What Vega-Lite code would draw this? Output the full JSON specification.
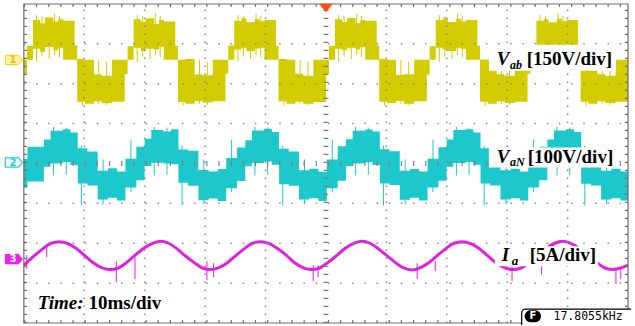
{
  "$schema": "https://vega.github.io/schema/vega-lite/v6.json",
  "width": 635,
  "height": 326,
  "autosize": {"type": "fit", "contains": "padding"},
  "padding": 0,
  "background": "white",
  "config": {"view": {"stroke": null}, "axis": {"disable": true}},
  "datasets": {
    "band": [
      {"ch": "A", "t": 0, "hi": 2.6, "lo": 2.22},
      {"ch": "A", "t": 0.5, "hi": 2.95, "lo": 2.6},
      {"ch": "A", "t": 1.5, "hi": 3.6, "lo": 2.88},
      {"ch": "A", "t": 2.7, "hi": 3.52, "lo": 2.8},
      {"ch": "A", "t": 3.5, "hi": 3.66, "lo": 2.92},
      {"ch": "A", "t": 4.9, "hi": 3.56, "lo": 2.84},
      {"ch": "A", "t": 5.7, "hi": 3.62, "lo": 2.9},
      {"ch": "A", "t": 6.5, "hi": 3.58, "lo": 2.6},
      {"ch": "A", "t": 8.4, "hi": 2.96, "lo": 2.6},
      {"ch": "A", "t": 8.83, "hi": 2.62, "lo": 1.55},
      {"ch": "A", "t": 10.1, "hi": 2.6, "lo": 1.5},
      {"ch": "A", "t": 11.6, "hi": 2.24, "lo": 1.56},
      {"ch": "A", "t": 12.9, "hi": 2.2, "lo": 1.52},
      {"ch": "A", "t": 14.6, "hi": 2.6, "lo": 1.55},
      {"ch": "A", "t": 16.7, "hi": 2.6, "lo": 2.24},
      {"ch": "A", "t": 17.17, "hi": 2.94, "lo": 2.6},
      {"ch": "A", "t": 18.17, "hi": 3.62, "lo": 2.9},
      {"ch": "A", "t": 19.37, "hi": 3.55, "lo": 2.82},
      {"ch": "A", "t": 20.17, "hi": 3.64, "lo": 2.88},
      {"ch": "A", "t": 21.57, "hi": 3.5, "lo": 2.86},
      {"ch": "A", "t": 22.37, "hi": 3.6, "lo": 2.93},
      {"ch": "A", "t": 23.17, "hi": 3.56, "lo": 2.6},
      {"ch": "A", "t": 25.07, "hi": 2.95, "lo": 2.6},
      {"ch": "A", "t": 25.5, "hi": 2.6, "lo": 1.54},
      {"ch": "A", "t": 26.77, "hi": 2.62, "lo": 1.5},
      {"ch": "A", "t": 28.27, "hi": 2.23, "lo": 1.57},
      {"ch": "A", "t": 29.57, "hi": 2.21, "lo": 1.53},
      {"ch": "A", "t": 31.27, "hi": 2.6, "lo": 1.56},
      {"ch": "A", "t": 33.37, "hi": 2.6, "lo": 2.25},
      {"ch": "A", "t": 33.83, "hi": 2.96, "lo": 2.6},
      {"ch": "A", "t": 34.83, "hi": 3.58, "lo": 2.86},
      {"ch": "A", "t": 36.03, "hi": 3.64, "lo": 2.9},
      {"ch": "A", "t": 36.83, "hi": 3.54, "lo": 2.82},
      {"ch": "A", "t": 38.23, "hi": 3.62, "lo": 2.88},
      {"ch": "A", "t": 39.03, "hi": 3.57, "lo": 2.9},
      {"ch": "A", "t": 39.83, "hi": 3.6, "lo": 2.6},
      {"ch": "A", "t": 41.73, "hi": 2.95, "lo": 2.6},
      {"ch": "A", "t": 42.16, "hi": 2.62, "lo": 1.56},
      {"ch": "A", "t": 43.43, "hi": 2.6, "lo": 1.5},
      {"ch": "A", "t": 44.93, "hi": 2.25, "lo": 1.55},
      {"ch": "A", "t": 46.23, "hi": 2.2, "lo": 1.5},
      {"ch": "A", "t": 47.93, "hi": 2.6, "lo": 1.54},
      {"ch": "A", "t": 50.03, "hi": 2.6, "lo": 2.24},
      {"ch": "A", "t": 50.5, "hi": 2.95, "lo": 2.6},
      {"ch": "A", "t": 51.5, "hi": 3.62, "lo": 2.88},
      {"ch": "A", "t": 52.7, "hi": 3.55, "lo": 2.84},
      {"ch": "A", "t": 53.5, "hi": 3.65, "lo": 2.9},
      {"ch": "A", "t": 54.9, "hi": 3.52, "lo": 2.86},
      {"ch": "A", "t": 55.7, "hi": 3.6, "lo": 2.92},
      {"ch": "A", "t": 56.5, "hi": 3.58, "lo": 2.6},
      {"ch": "A", "t": 58.4, "hi": 2.96, "lo": 2.6},
      {"ch": "A", "t": 58.83, "hi": 2.62, "lo": 1.55},
      {"ch": "A", "t": 60.1, "hi": 2.6, "lo": 1.52},
      {"ch": "A", "t": 61.6, "hi": 2.22, "lo": 1.57},
      {"ch": "A", "t": 62.9, "hi": 2.24, "lo": 1.5},
      {"ch": "A", "t": 64.6, "hi": 2.6, "lo": 1.56},
      {"ch": "A", "t": 66.7, "hi": 2.6, "lo": 2.23},
      {"ch": "A", "t": 67.17, "hi": 2.94, "lo": 2.6},
      {"ch": "A", "t": 68.17, "hi": 3.6, "lo": 2.9},
      {"ch": "A", "t": 69.37, "hi": 3.64, "lo": 2.86},
      {"ch": "A", "t": 70.17, "hi": 3.55, "lo": 2.82},
      {"ch": "A", "t": 71.57, "hi": 3.63, "lo": 2.9},
      {"ch": "A", "t": 72.37, "hi": 3.56, "lo": 2.88},
      {"ch": "A", "t": 73.17, "hi": 3.6, "lo": 2.6},
      {"ch": "A", "t": 75.07, "hi": 2.95, "lo": 2.6},
      {"ch": "A", "t": 75.5, "hi": 2.61, "lo": 1.55},
      {"ch": "A", "t": 76.77, "hi": 2.6, "lo": 1.5},
      {"ch": "A", "t": 78.27, "hi": 2.24, "lo": 1.56},
      {"ch": "A", "t": 79.57, "hi": 2.2, "lo": 1.52},
      {"ch": "A", "t": 81.27, "hi": 2.6, "lo": 1.55},
      {"ch": "A", "t": 83.37, "hi": 2.6, "lo": 2.25},
      {"ch": "A", "t": 83.83, "hi": 2.95, "lo": 2.6},
      {"ch": "A", "t": 84.83, "hi": 3.58, "lo": 2.88},
      {"ch": "A", "t": 86.03, "hi": 3.62, "lo": 2.9},
      {"ch": "A", "t": 86.83, "hi": 3.54, "lo": 2.84},
      {"ch": "A", "t": 88.23, "hi": 3.63, "lo": 2.88},
      {"ch": "A", "t": 89.03, "hi": 3.57, "lo": 2.92},
      {"ch": "A", "t": 89.83, "hi": 3.6, "lo": 2.6},
      {"ch": "A", "t": 91.73, "hi": 2.96, "lo": 2.6},
      {"ch": "A", "t": 92.16, "hi": 2.62, "lo": 1.55},
      {"ch": "A", "t": 93.43, "hi": 2.6, "lo": 1.5},
      {"ch": "A", "t": 94.93, "hi": 2.24, "lo": 1.56},
      {"ch": "A", "t": 96.23, "hi": 2.2, "lo": 1.52},
      {"ch": "A", "t": 97.93, "hi": 2.6, "lo": 1.55},
      {"ch": "A", "t": 100, "hi": 2.6, "lo": 1.55},

      {"ch": "B", "t": 0, "hi": 0.12, "lo": -0.6},
      {"ch": "B", "t": 0.6, "hi": 0.42, "lo": -0.45},
      {"ch": "B", "t": 3.32, "hi": 0.6, "lo": -0.08},
      {"ch": "B", "t": 4.42, "hi": 0.82, "lo": 0.0},
      {"ch": "B", "t": 6.42, "hi": 0.86, "lo": 0.04},
      {"ch": "B", "t": 7.72, "hi": 0.78, "lo": -0.04},
      {"ch": "B", "t": 8.92, "hi": 0.38, "lo": -0.5},
      {"ch": "B", "t": 10.52, "hi": 0.3, "lo": -0.55},
      {"ch": "B", "t": 12.22, "hi": -0.18, "lo": -0.9},
      {"ch": "B", "t": 13.92, "hi": -0.12, "lo": -0.86},
      {"ch": "B", "t": 15.42, "hi": -0.2, "lo": -0.93},
      {"ch": "B", "t": 16.82, "hi": 0.12, "lo": -0.6},
      {"ch": "B", "t": 18.62, "hi": 0.42, "lo": -0.42},
      {"ch": "B", "t": 19.99, "hi": 0.62, "lo": -0.06},
      {"ch": "B", "t": 21.09, "hi": 0.84, "lo": 0.02},
      {"ch": "B", "t": 23.09, "hi": 0.8, "lo": 0.0},
      {"ch": "B", "t": 24.39, "hi": 0.86, "lo": -0.02},
      {"ch": "B", "t": 25.59, "hi": 0.35, "lo": -0.48},
      {"ch": "B", "t": 27.19, "hi": 0.32, "lo": -0.56},
      {"ch": "B", "t": 28.89, "hi": -0.16, "lo": -0.92},
      {"ch": "B", "t": 30.59, "hi": -0.2, "lo": -0.88},
      {"ch": "B", "t": 32.09, "hi": -0.14, "lo": -0.94},
      {"ch": "B", "t": 33.49, "hi": 0.14, "lo": -0.62},
      {"ch": "B", "t": 35.29, "hi": 0.4, "lo": -0.44},
      {"ch": "B", "t": 36.65, "hi": 0.58, "lo": -0.07},
      {"ch": "B", "t": 37.75, "hi": 0.83, "lo": 0.01},
      {"ch": "B", "t": 39.75, "hi": 0.87, "lo": 0.05},
      {"ch": "B", "t": 41.05, "hi": 0.79, "lo": -0.03},
      {"ch": "B", "t": 42.25, "hi": 0.37, "lo": -0.52},
      {"ch": "B", "t": 43.85, "hi": 0.3, "lo": -0.56},
      {"ch": "B", "t": 45.55, "hi": -0.17, "lo": -0.9},
      {"ch": "B", "t": 47.25, "hi": -0.13, "lo": -0.87},
      {"ch": "B", "t": 48.75, "hi": -0.21, "lo": -0.94},
      {"ch": "B", "t": 50.15, "hi": 0.1, "lo": -0.62},
      {"ch": "B", "t": 51.95, "hi": 0.43, "lo": -0.43},
      {"ch": "B", "t": 53.32, "hi": 0.61, "lo": -0.07},
      {"ch": "B", "t": 54.42, "hi": 0.82, "lo": 0.0},
      {"ch": "B", "t": 56.42, "hi": 0.85, "lo": 0.03},
      {"ch": "B", "t": 57.72, "hi": 0.8, "lo": -0.04},
      {"ch": "B", "t": 58.92, "hi": 0.36, "lo": -0.5},
      {"ch": "B", "t": 60.52, "hi": 0.31, "lo": -0.54},
      {"ch": "B", "t": 62.22, "hi": -0.18, "lo": -0.91},
      {"ch": "B", "t": 63.92, "hi": -0.14, "lo": -0.86},
      {"ch": "B", "t": 65.42, "hi": -0.2, "lo": -0.93},
      {"ch": "B", "t": 66.82, "hi": 0.12, "lo": -0.6},
      {"ch": "B", "t": 68.62, "hi": 0.41, "lo": -0.43},
      {"ch": "B", "t": 69.99, "hi": 0.6, "lo": -0.08},
      {"ch": "B", "t": 71.09, "hi": 0.84, "lo": 0.01},
      {"ch": "B", "t": 73.09, "hi": 0.86, "lo": 0.04},
      {"ch": "B", "t": 74.39, "hi": 0.78, "lo": -0.03},
      {"ch": "B", "t": 75.59, "hi": 0.38, "lo": -0.5},
      {"ch": "B", "t": 77.19, "hi": 0.3, "lo": -0.55},
      {"ch": "B", "t": 78.89, "hi": -0.17, "lo": -0.9},
      {"ch": "B", "t": 80.59, "hi": -0.13, "lo": -0.87},
      {"ch": "B", "t": 82.09, "hi": -0.2, "lo": -0.93},
      {"ch": "B", "t": 83.49, "hi": 0.13, "lo": -0.6},
      {"ch": "B", "t": 85.29, "hi": 0.42, "lo": -0.42},
      {"ch": "B", "t": 86.65, "hi": 0.6, "lo": -0.07},
      {"ch": "B", "t": 87.75, "hi": 0.83, "lo": 0.0},
      {"ch": "B", "t": 89.75, "hi": 0.86, "lo": 0.04},
      {"ch": "B", "t": 91.05, "hi": 0.79, "lo": -0.04},
      {"ch": "B", "t": 92.25, "hi": 0.37, "lo": -0.51},
      {"ch": "B", "t": 93.85, "hi": 0.3, "lo": -0.55},
      {"ch": "B", "t": 95.55, "hi": -0.18, "lo": -0.9},
      {"ch": "B", "t": 97.25, "hi": -0.13, "lo": -0.87},
      {"ch": "B", "t": 98.75, "hi": -0.2, "lo": -0.93},
      {"ch": "B", "t": 100, "hi": -0.2, "lo": -0.93}
    ],
    "spike": [
      {"ch": "A", "t": 2.1, "hi": 3.72, "lo": 2.55},
      {"ch": "A", "t": 3.0, "hi": 3.7, "lo": 2.68},
      {"ch": "A", "t": 4.2, "hi": 3.5, "lo": 2.62},
      {"ch": "A", "t": 5.1, "hi": 3.76, "lo": 2.72},
      {"ch": "A", "t": 5.9, "hi": 3.7, "lo": 2.66},
      {"ch": "A", "t": 9.7, "hi": 2.6, "lo": 1.45},
      {"ch": "A", "t": 12.4, "hi": 2.6, "lo": 1.5},
      {"ch": "A", "t": 13.7, "hi": 2.55, "lo": 1.47},
      {"ch": "A", "t": 18.77, "hi": 3.72, "lo": 2.55},
      {"ch": "A", "t": 19.67, "hi": 3.7, "lo": 2.68},
      {"ch": "A", "t": 20.87, "hi": 3.5, "lo": 2.62},
      {"ch": "A", "t": 21.77, "hi": 3.76, "lo": 2.72},
      {"ch": "A", "t": 22.57, "hi": 3.7, "lo": 2.66},
      {"ch": "A", "t": 26.37, "hi": 2.6, "lo": 1.45},
      {"ch": "A", "t": 29.07, "hi": 2.6, "lo": 1.5},
      {"ch": "A", "t": 30.37, "hi": 2.55, "lo": 1.47},
      {"ch": "A", "t": 35.43, "hi": 3.72, "lo": 2.55},
      {"ch": "A", "t": 36.33, "hi": 3.7, "lo": 2.68},
      {"ch": "A", "t": 37.53, "hi": 3.5, "lo": 2.62},
      {"ch": "A", "t": 38.43, "hi": 3.76, "lo": 2.72},
      {"ch": "A", "t": 39.23, "hi": 3.7, "lo": 2.66},
      {"ch": "A", "t": 43.03, "hi": 2.6, "lo": 1.45},
      {"ch": "A", "t": 45.73, "hi": 2.6, "lo": 1.5},
      {"ch": "A", "t": 47.03, "hi": 2.55, "lo": 1.47},
      {"ch": "A", "t": 52.1, "hi": 3.72, "lo": 2.55},
      {"ch": "A", "t": 53.0, "hi": 3.7, "lo": 2.68},
      {"ch": "A", "t": 54.2, "hi": 3.5, "lo": 2.62},
      {"ch": "A", "t": 55.1, "hi": 3.76, "lo": 2.72},
      {"ch": "A", "t": 55.9, "hi": 3.7, "lo": 2.66},
      {"ch": "A", "t": 59.7, "hi": 2.6, "lo": 1.45},
      {"ch": "A", "t": 62.4, "hi": 2.6, "lo": 1.5},
      {"ch": "A", "t": 63.7, "hi": 2.55, "lo": 1.47},
      {"ch": "A", "t": 68.77, "hi": 3.72, "lo": 2.55},
      {"ch": "A", "t": 69.67, "hi": 3.7, "lo": 2.68},
      {"ch": "A", "t": 70.87, "hi": 3.5, "lo": 2.62},
      {"ch": "A", "t": 71.77, "hi": 3.76, "lo": 2.72},
      {"ch": "A", "t": 72.57, "hi": 3.7, "lo": 2.66},
      {"ch": "A", "t": 76.37, "hi": 2.6, "lo": 1.45},
      {"ch": "A", "t": 79.07, "hi": 2.6, "lo": 1.5},
      {"ch": "A", "t": 80.37, "hi": 2.55, "lo": 1.47},
      {"ch": "A", "t": 85.43, "hi": 3.72, "lo": 2.55},
      {"ch": "A", "t": 86.33, "hi": 3.7, "lo": 2.68},
      {"ch": "A", "t": 87.53, "hi": 3.5, "lo": 2.62},
      {"ch": "A", "t": 88.43, "hi": 3.76, "lo": 2.72},
      {"ch": "A", "t": 89.23, "hi": 3.7, "lo": 2.66},
      {"ch": "A", "t": 93.03, "hi": 2.6, "lo": 1.45},
      {"ch": "A", "t": 95.73, "hi": 2.6, "lo": 1.5},
      {"ch": "A", "t": 97.03, "hi": 2.55, "lo": 1.47},

      {"ch": "B", "t": 4.92, "hi": 0.92, "lo": -0.3},
      {"ch": "B", "t": 7.02, "hi": 0.9, "lo": -0.28},
      {"ch": "B", "t": 9.52, "hi": 0.45, "lo": -1.05},
      {"ch": "B", "t": 13.12, "hi": 0.1, "lo": -1.02},
      {"ch": "B", "t": 17.72, "hi": 0.6, "lo": -0.72},
      {"ch": "B", "t": 21.59, "hi": 0.92, "lo": -0.3},
      {"ch": "B", "t": 23.69, "hi": 0.9, "lo": -0.28},
      {"ch": "B", "t": 26.19, "hi": 0.45, "lo": -1.05},
      {"ch": "B", "t": 29.79, "hi": 0.1, "lo": -1.02},
      {"ch": "B", "t": 34.39, "hi": 0.6, "lo": -0.72},
      {"ch": "B", "t": 38.25, "hi": 0.92, "lo": -0.3},
      {"ch": "B", "t": 40.35, "hi": 0.9, "lo": -0.28},
      {"ch": "B", "t": 42.85, "hi": 0.45, "lo": -1.05},
      {"ch": "B", "t": 46.45, "hi": 0.1, "lo": -1.02},
      {"ch": "B", "t": 51.05, "hi": 0.6, "lo": -0.72},
      {"ch": "B", "t": 54.92, "hi": 0.92, "lo": -0.3},
      {"ch": "B", "t": 57.02, "hi": 0.9, "lo": -0.28},
      {"ch": "B", "t": 59.52, "hi": 0.45, "lo": -1.05},
      {"ch": "B", "t": 63.12, "hi": 0.1, "lo": -1.02},
      {"ch": "B", "t": 67.72, "hi": 0.6, "lo": -0.72},
      {"ch": "B", "t": 71.59, "hi": 0.92, "lo": -0.3},
      {"ch": "B", "t": 73.69, "hi": 0.9, "lo": -0.28},
      {"ch": "B", "t": 76.19, "hi": 0.45, "lo": -1.05},
      {"ch": "B", "t": 79.79, "hi": 0.1, "lo": -1.02},
      {"ch": "B", "t": 84.39, "hi": 0.6, "lo": -0.72},
      {"ch": "B", "t": 88.25, "hi": 0.92, "lo": -0.3},
      {"ch": "B", "t": 90.35, "hi": 0.9, "lo": -0.28},
      {"ch": "B", "t": 92.85, "hi": 0.45, "lo": -1.05},
      {"ch": "B", "t": 96.45, "hi": 0.1, "lo": -1.02},

      {"ch": "C", "t": 0.49, "hi": -2.3, "lo": -2.65},
      {"ch": "C", "t": 3.78, "hi": -2.08, "lo": -2.35},
      {"ch": "C", "t": 15.3, "hi": -2.45, "lo": -2.98},
      {"ch": "C", "t": 18.4, "hi": -2.35, "lo": -2.9},
      {"ch": "C", "t": 30.3, "hi": -2.45, "lo": -2.92},
      {"ch": "C", "t": 31.4, "hi": -2.5, "lo": -2.85},
      {"ch": "C", "t": 47.9, "hi": -2.55, "lo": -2.95},
      {"ch": "C", "t": 48.7, "hi": -2.55, "lo": -2.85},
      {"ch": "C", "t": 65.1, "hi": -2.5, "lo": -2.9},
      {"ch": "C", "t": 68.1, "hi": -2.45, "lo": -2.7},
      {"ch": "C", "t": 80.8, "hi": -2.52, "lo": -2.95},
      {"ch": "C", "t": 85.7, "hi": -2.5, "lo": -2.78},
      {"ch": "C", "t": 98.0, "hi": -2.6, "lo": -3.02},
      {"ch": "C", "t": 98.8, "hi": -2.6, "lo": -2.9}
    ],
    "cur": [
      {"t": 0, "v": -2.55}, {"t": 1.75, "v": -2.31}, {"t": 3.14, "v": -2.14}, {"t": 4.53, "v": -2.0},
      {"t": 5.92, "v": -1.96}, {"t": 7.31, "v": -2.01}, {"t": 8.69, "v": -2.13}, {"t": 10.08, "v": -2.31},
      {"t": 11.47, "v": -2.49}, {"t": 12.86, "v": -2.61}, {"t": 14.25, "v": -2.66}, {"t": 15.64, "v": -2.62},
      {"t": 17.03, "v": -2.48}, {"t": 18.42, "v": -2.3}, {"t": 19.81, "v": -2.13}, {"t": 21.2, "v": -2.01},
      {"t": 22.59, "v": -1.95}, {"t": 23.97, "v": -2.0}, {"t": 25.36, "v": -2.14}, {"t": 26.75, "v": -2.32},
      {"t": 28.14, "v": -2.48}, {"t": 29.53, "v": -2.62}, {"t": 30.92, "v": -2.66}, {"t": 32.31, "v": -2.61},
      {"t": 33.69, "v": -2.49}, {"t": 35.08, "v": -2.31}, {"t": 36.47, "v": -2.14}, {"t": 37.86, "v": -2.0},
      {"t": 39.25, "v": -1.96}, {"t": 40.64, "v": -2.01}, {"t": 42.03, "v": -2.14}, {"t": 43.42, "v": -2.3},
      {"t": 44.81, "v": -2.49}, {"t": 46.19, "v": -2.61}, {"t": 47.58, "v": -2.66}, {"t": 48.97, "v": -2.62},
      {"t": 50.36, "v": -2.48}, {"t": 51.75, "v": -2.31}, {"t": 53.14, "v": -2.13}, {"t": 54.53, "v": -2.01},
      {"t": 55.92, "v": -1.95}, {"t": 57.31, "v": -2.0}, {"t": 58.69, "v": -2.14}, {"t": 60.08, "v": -2.31},
      {"t": 61.47, "v": -2.48}, {"t": 62.86, "v": -2.62}, {"t": 64.25, "v": -2.67}, {"t": 65.64, "v": -2.61},
      {"t": 67.03, "v": -2.49}, {"t": 68.42, "v": -2.31}, {"t": 69.81, "v": -2.14}, {"t": 71.2, "v": -2.0},
      {"t": 72.59, "v": -1.96}, {"t": 73.97, "v": -2.01}, {"t": 75.36, "v": -2.13}, {"t": 76.75, "v": -2.31},
      {"t": 78.14, "v": -2.49}, {"t": 79.53, "v": -2.61}, {"t": 80.92, "v": -2.66}, {"t": 82.31, "v": -2.62},
      {"t": 83.69, "v": -2.48}, {"t": 85.08, "v": -2.31}, {"t": 86.47, "v": -2.13}, {"t": 87.86, "v": -2.0},
      {"t": 89.25, "v": -1.95}, {"t": 90.64, "v": -2.01}, {"t": 92.03, "v": -2.14}, {"t": 93.42, "v": -2.31},
      {"t": 94.81, "v": -2.48}, {"t": 96.19, "v": -2.62}, {"t": 97.58, "v": -2.66}, {"t": 98.97, "v": -2.61},
      {"t": 100, "v": -2.55}
    ],
    "gridv": [{"t": 10}, {"t": 20}, {"t": 30}, {"t": 40}, {"t": 60}, {"t": 70}, {"t": 80}, {"t": 90}],
    "gridh": [{"d": -3}, {"d": -2}, {"d": -1}, {"d": 1}, {"d": 2}, {"d": 3}]
  },
  "layer": [
    {
      "data": {"name": "band"},
      "mark": {"type": "area", "interpolate": "step-after", "opacity": 1},
      "encoding": {
        "x": {"field": "t", "type": "quantitative", "scale": {"domain": [-3.947, 100.493], "nice": false, "zero": false}, "axis": null},
        "y": {"field": "hi", "type": "quantitative", "stack": null, "scale": {"domain": [-4.05, 4.1], "nice": false, "zero": false}, "axis": null},
        "y2": {"field": "lo"},
        "color": {"field": "ch", "type": "nominal", "scale": {"domain": ["A", "B", "C"], "range": ["#d2cc00", "#1cc8cc", "#e020e0"]}, "legend": null}
      }
    },
    {
      "data": {"name": "spike"},
      "mark": {"type": "rule", "strokeWidth": 1},
      "encoding": {
        "x": {"field": "t", "type": "quantitative", "scale": {"domain": [-3.947, 100.493], "nice": false, "zero": false}, "axis": null},
        "y": {"field": "hi", "type": "quantitative", "scale": {"domain": [-4.05, 4.1], "nice": false, "zero": false}, "axis": null},
        "y2": {"field": "lo"},
        "color": {"field": "ch", "type": "nominal", "scale": {"domain": ["A", "B", "C"], "range": ["#d2cc00", "#1cc8cc", "#e020e0"]}, "legend": null}
      }
    },
    {
      "data": {"name": "cur"},
      "mark": {"type": "line", "interpolate": "monotone", "strokeWidth": 3, "color": "#e020e0"},
      "encoding": {
        "x": {"field": "t", "type": "quantitative", "scale": {"domain": [-3.947, 100.493], "nice": false, "zero": false}, "axis": null},
        "y": {"field": "v", "type": "quantitative", "scale": {"domain": [-4.05, 4.1], "nice": false, "zero": false}, "axis": null}
      }
    },
    {
      "data": {"name": "gridv"},
      "mark": {"type": "rule", "strokeWidth": 1.5, "strokeDash": [1.5, 6.5], "color": "#8c8c8c"},
      "encoding": {
        "x": {"field": "t", "type": "quantitative", "scale": {"domain": [-3.947, 100.493], "nice": false, "zero": false}, "axis": null},
        "y": {"datum": -4, "type": "quantitative", "scale": {"domain": [-4.05, 4.1], "nice": false, "zero": false}, "axis": null},
        "y2": {"datum": 4}
      }
    },
    {
      "data": {"name": "gridh"},
      "mark": {"type": "rule", "strokeWidth": 1.5, "strokeDash": [1.5, 10.66], "color": "#8c8c8c"},
      "encoding": {
        "x": {"datum": 0, "type": "quantitative", "scale": {"domain": [-3.947, 100.493], "nice": false, "zero": false}, "axis": null},
        "x2": {"datum": 100},
        "y": {"field": "d", "type": "quantitative", "scale": {"domain": [-4.05, 4.1], "nice": false, "zero": false}, "axis": null}
      }
    },
    {
      "data": {"values": [{}]},
      "mark": {"type": "rule", "strokeWidth": 5, "strokeDash": [1.2, 6.8], "color": "#808080"},
      "encoding": {
        "x": {"datum": 50, "type": "quantitative", "scale": {"domain": [-3.947, 100.493], "nice": false, "zero": false}, "axis": null},
        "y": {"datum": -4, "type": "quantitative", "scale": {"domain": [-4.05, 4.1], "nice": false, "zero": false}, "axis": null},
        "y2": {"datum": 4}
      }
    },
    {
      "data": {"values": [{}]},
      "mark": {"type": "rule", "strokeWidth": 5, "strokeDash": [1.2, 10.96], "color": "#808080"},
      "encoding": {
        "x": {"datum": 0, "type": "quantitative", "scale": {"domain": [-3.947, 100.493], "nice": false, "zero": false}, "axis": null},
        "x2": {"datum": 100},
        "y": {"datum": 0, "type": "quantitative", "scale": {"domain": [-4.05, 4.1], "nice": false, "zero": false}, "axis": null}
      }
    },
    {
      "data": {"values": [{}]},
      "mark": {"type": "rule", "strokeWidth": 3, "strokeDash": [1.2, 10.96], "color": "#707070"},
      "encoding": {
        "x": {"datum": 0, "type": "quantitative", "scale": {"domain": [-3.947, 100.493], "nice": false, "zero": false}, "axis": null},
        "x2": {"datum": 100},
        "y": {"datum": 3.96, "type": "quantitative", "scale": {"domain": [-4.05, 4.1], "nice": false, "zero": false}, "axis": null}
      }
    },
    {
      "data": {"values": [{}]},
      "mark": {"type": "rule", "strokeWidth": 3, "strokeDash": [1.2, 10.96], "color": "#707070"},
      "encoding": {
        "x": {"datum": 0, "type": "quantitative", "scale": {"domain": [-3.947, 100.493], "nice": false, "zero": false}, "axis": null},
        "x2": {"datum": 100},
        "y": {"datum": -3.96, "type": "quantitative", "scale": {"domain": [-4.05, 4.1], "nice": false, "zero": false}, "axis": null}
      }
    },
    {
      "data": {"values": [{}]},
      "mark": {"type": "rule", "strokeWidth": 3, "strokeDash": [1.2, 6.8], "color": "#707070"},
      "encoding": {
        "x": {"datum": 0.25, "type": "quantitative", "scale": {"domain": [-3.947, 100.493], "nice": false, "zero": false}, "axis": null},
        "y": {"datum": -4, "type": "quantitative", "scale": {"domain": [-4.05, 4.1], "nice": false, "zero": false}, "axis": null},
        "y2": {"datum": 4}
      }
    },
    {
      "data": {"values": [{}]},
      "mark": {"type": "rule", "strokeWidth": 3, "strokeDash": [1.2, 6.8], "color": "#707070"},
      "encoding": {
        "x": {"datum": 99.75, "type": "quantitative", "scale": {"domain": [-3.947, 100.493], "nice": false, "zero": false}, "axis": null},
        "y": {"datum": -4, "type": "quantitative", "scale": {"domain": [-4.05, 4.1], "nice": false, "zero": false}, "axis": null},
        "y2": {"datum": 4}
      }
    },
    {
      "data": {"values": [{}]},
      "mark": {"type": "rect", "fillOpacity": 0, "stroke": "#6e6e6e", "strokeWidth": 1.2},
      "encoding": {
        "x": {"datum": 0, "type": "quantitative", "scale": {"domain": [-3.947, 100.493], "nice": false, "zero": false}, "axis": null},
        "x2": {"datum": 100},
        "y": {"datum": -4, "type": "quantitative", "scale": {"domain": [-4.05, 4.1], "nice": false, "zero": false}, "axis": null},
        "y2": {"datum": 4}
      }
    },
    {
      "data": {"values": [{}]},
      "mark": {"type": "rect", "color": "white"},
      "encoding": {
        "x": {"datum": 76.97, "type": "quantitative", "scale": {"domain": [-3.947, 100.493], "nice": false, "zero": false}, "axis": null},
        "x2": {"datum": 98.03},
        "y": {"datum": 2.975, "type": "quantitative", "scale": {"domain": [-4.05, 4.1], "nice": false, "zero": false}, "axis": null},
        "y2": {"datum": 2.325}
      }
    },
    {
      "data": {"values": [{}]},
      "mark": {"type": "rect", "color": "white"},
      "encoding": {
        "x": {"datum": 76.97, "type": "quantitative", "scale": {"domain": [-3.947, 100.493], "nice": false, "zero": false}, "axis": null},
        "x2": {"datum": 97.53},
        "y": {"datum": 0.4, "type": "quantitative", "scale": {"domain": [-4.05, 4.1], "nice": false, "zero": false}, "axis": null},
        "y2": {"datum": -0.1}
      }
    },
    {
      "data": {"values": [{}]},
      "mark": {"type": "rect", "color": "white"},
      "encoding": {
        "x": {"datum": 77.96, "type": "quantitative", "scale": {"domain": [-3.947, 100.493], "nice": false, "zero": false}, "axis": null},
        "x2": {"datum": 95.07},
        "y": {"datum": -2.075, "type": "quantitative", "scale": {"domain": [-4.05, 4.1], "nice": false, "zero": false}, "axis": null},
        "y2": {"datum": -2.575}
      }
    },
    {
      "data": {"values": [{}]},
      "mark": {"type": "text", "font": "Liberation Serif", "fontWeight": "bold", "fontStyle": "italic", "fontSize": 19, "align": "left", "baseline": "alphabetic", "color": "black"},
      "encoding": {
        "x": {"datum": 78.29, "type": "quantitative", "scale": {"domain": [-3.947, 100.493], "nice": false, "zero": false}, "axis": null},
        "y": {"datum": 2.475, "type": "quantitative", "scale": {"domain": [-4.05, 4.1], "nice": false, "zero": false}, "axis": null},
        "text": {"value": "V"}
      }
    },
    {
      "data": {"values": [{}]},
      "mark": {"type": "text", "font": "Liberation Serif", "fontWeight": "bold", "fontStyle": "italic", "fontSize": 12, "align": "left", "baseline": "alphabetic", "color": "black"},
      "encoding": {
        "x": {"datum": 80.45, "type": "quantitative", "scale": {"domain": [-3.947, 100.493], "nice": false, "zero": false}, "axis": null},
        "y": {"datum": 2.375, "type": "quantitative", "scale": {"domain": [-4.05, 4.1], "nice": false, "zero": false}, "axis": null},
        "text": {"value": "ab"}
      }
    },
    {
      "data": {"values": [{}]},
      "mark": {"type": "text", "font": "Liberation Serif", "fontWeight": "bold", "fontSize": 19, "align": "left", "baseline": "alphabetic", "color": "black"},
      "encoding": {
        "x": {"datum": 83.22, "type": "quantitative", "scale": {"domain": [-3.947, 100.493], "nice": false, "zero": false}, "axis": null},
        "y": {"datum": 2.475, "type": "quantitative", "scale": {"domain": [-4.05, 4.1], "nice": false, "zero": false}, "axis": null},
        "text": {"value": "[150V/div]"}
      }
    },
    {
      "data": {"values": [{}]},
      "mark": {"type": "text", "font": "Liberation Serif", "fontWeight": "bold", "fontStyle": "italic", "fontSize": 19, "align": "left", "baseline": "alphabetic", "color": "black"},
      "encoding": {
        "x": {"datum": 78.29, "type": "quantitative", "scale": {"domain": [-3.947, 100.493], "nice": false, "zero": false}, "axis": null},
        "y": {"datum": 0.025, "type": "quantitative", "scale": {"domain": [-4.05, 4.1], "nice": false, "zero": false}, "axis": null},
        "text": {"value": "V"}
      }
    },
    {
      "data": {"values": [{}]},
      "mark": {"type": "text", "font": "Liberation Serif", "fontWeight": "bold", "fontStyle": "italic", "fontSize": 12, "align": "left", "baseline": "alphabetic", "color": "black"},
      "encoding": {
        "x": {"datum": 80.45, "type": "quantitative", "scale": {"domain": [-3.947, 100.493], "nice": false, "zero": false}, "axis": null},
        "y": {"datum": -0.075, "type": "quantitative", "scale": {"domain": [-4.05, 4.1], "nice": false, "zero": false}, "axis": null},
        "text": {"value": "aN"}
      }
    },
    {
      "data": {"values": [{}]},
      "mark": {"type": "text", "font": "Liberation Serif", "fontWeight": "bold", "fontSize": 19, "align": "left", "baseline": "alphabetic", "color": "black"},
      "encoding": {
        "x": {"datum": 83.4, "type": "quantitative", "scale": {"domain": [-3.947, 100.493], "nice": false, "zero": false}, "axis": null},
        "y": {"datum": 0.025, "type": "quantitative", "scale": {"domain": [-4.05, 4.1], "nice": false, "zero": false}, "axis": null},
        "text": {"value": "[100V/div]"}
      }
    },
    {
      "data": {"values": [{}]},
      "mark": {"type": "text", "font": "Liberation Serif", "fontWeight": "bold", "fontStyle": "italic", "fontSize": 19, "align": "left", "baseline": "alphabetic", "color": "black"},
      "encoding": {
        "x": {"datum": 79.11, "type": "quantitative", "scale": {"domain": [-3.947, 100.493], "nice": false, "zero": false}, "axis": null},
        "y": {"datum": -2.45, "type": "quantitative", "scale": {"domain": [-4.05, 4.1], "nice": false, "zero": false}, "axis": null},
        "text": {"value": "I"}
      }
    },
    {
      "data": {"values": [{}]},
      "mark": {"type": "text", "font": "Liberation Serif", "fontWeight": "bold", "fontStyle": "italic", "fontSize": 13, "align": "left", "baseline": "alphabetic", "color": "black"},
      "encoding": {
        "x": {"datum": 80.76, "type": "quantitative", "scale": {"domain": [-3.947, 100.493], "nice": false, "zero": false}, "axis": null},
        "y": {"datum": -2.55, "type": "quantitative", "scale": {"domain": [-4.05, 4.1], "nice": false, "zero": false}, "axis": null},
        "text": {"value": "a"}
      }
    },
    {
      "data": {"values": [{}]},
      "mark": {"type": "text", "font": "Liberation Serif", "fontWeight": "bold", "fontSize": 19, "align": "left", "baseline": "alphabetic", "color": "black"},
      "encoding": {
        "x": {"datum": 83.72, "type": "quantitative", "scale": {"domain": [-3.947, 100.493], "nice": false, "zero": false}, "axis": null},
        "y": {"datum": -2.45, "type": "quantitative", "scale": {"domain": [-4.05, 4.1], "nice": false, "zero": false}, "axis": null},
        "text": {"value": "[5A/div]"}
      }
    },
    {
      "data": {"values": [{}]},
      "mark": {"type": "text", "font": "Liberation Serif", "fontWeight": "bold", "fontStyle": "italic", "fontSize": 19, "align": "left", "baseline": "alphabetic", "color": "black"},
      "encoding": {
        "x": {"datum": 2.3, "type": "quantitative", "scale": {"domain": [-3.947, 100.493], "nice": false, "zero": false}, "axis": null},
        "y": {"datum": -3.65, "type": "quantitative", "scale": {"domain": [-4.05, 4.1], "nice": false, "zero": false}, "axis": null},
        "text": {"value": "Time:"}
      }
    },
    {
      "data": {"values": [{}]},
      "mark": {"type": "text", "font": "Liberation Serif", "fontWeight": "bold", "fontSize": 19, "align": "left", "baseline": "alphabetic", "color": "black"},
      "encoding": {
        "x": {"datum": 10.69, "type": "quantitative", "scale": {"domain": [-3.947, 100.493], "nice": false, "zero": false}, "axis": null},
        "y": {"datum": -3.65, "type": "quantitative", "scale": {"domain": [-4.05, 4.1], "nice": false, "zero": false}, "axis": null},
        "text": {"value": "10ms/div"}
      }
    },
    {
      "data": {"values": [{}]},
      "mark": {"type": "point", "shape": "M-1,-0.55L0.55,-0.55L1,0L0.55,0.55L-1,0.55Z", "size": 289, "filled": true, "fill": "#fff1a6", "stroke": "#ecd31a", "strokeWidth": 1, "opacity": 1},
      "encoding": {
        "x": {"datum": -1.645, "type": "quantitative", "scale": {"domain": [-3.947, 100.493], "nice": false, "zero": false}, "axis": null},
        "y": {"datum": 2.6, "type": "quantitative", "scale": {"domain": [-4.05, 4.1], "nice": false, "zero": false}, "axis": null}
      }
    },
    {
      "data": {"values": [{}]},
      "mark": {"type": "text", "font": "DejaVu Sans", "fontWeight": "bold", "fontSize": 10, "align": "center", "baseline": "middle", "color": "#e3c400"},
      "encoding": {
        "x": {"datum": -1.8, "type": "quantitative", "scale": {"domain": [-3.947, 100.493], "nice": false, "zero": false}, "axis": null},
        "y": {"datum": 2.6, "type": "quantitative", "scale": {"domain": [-4.05, 4.1], "nice": false, "zero": false}, "axis": null},
        "text": {"value": "1"}
      }
    },
    {
      "data": {"values": [{}]},
      "mark": {"type": "point", "shape": "M-1,-0.55L0.55,-0.55L1,0L0.55,0.55L-1,0.55Z", "size": 289, "filled": true, "fill": "white", "stroke": "#22d0dc", "strokeWidth": 1.2, "opacity": 1},
      "encoding": {
        "x": {"datum": -1.645, "type": "quantitative", "scale": {"domain": [-3.947, 100.493], "nice": false, "zero": false}, "axis": null},
        "y": {"datum": 0.025, "type": "quantitative", "scale": {"domain": [-4.05, 4.1], "nice": false, "zero": false}, "axis": null}
      }
    },
    {
      "data": {"values": [{}]},
      "mark": {"type": "text", "font": "DejaVu Sans", "fontWeight": "bold", "fontSize": 10, "align": "center", "baseline": "middle", "color": "#1cc8d4"},
      "encoding": {
        "x": {"datum": -1.8, "type": "quantitative", "scale": {"domain": [-3.947, 100.493], "nice": false, "zero": false}, "axis": null},
        "y": {"datum": 0.025, "type": "quantitative", "scale": {"domain": [-4.05, 4.1], "nice": false, "zero": false}, "axis": null},
        "text": {"value": "2"}
      }
    },
    {
      "data": {"values": [{}]},
      "mark": {"type": "point", "shape": "M-1,-0.55L0.55,-0.55L1,0L0.55,0.55L-1,0.55Z", "size": 289, "filled": true, "fill": "#ee22ee", "stroke": "#ee22ee", "strokeWidth": 1, "opacity": 1},
      "encoding": {
        "x": {"datum": -1.645, "type": "quantitative", "scale": {"domain": [-3.947, 100.493], "nice": false, "zero": false}, "axis": null},
        "y": {"datum": -2.4, "type": "quantitative", "scale": {"domain": [-4.05, 4.1], "nice": false, "zero": false}, "axis": null}
      }
    },
    {
      "data": {"values": [{}]},
      "mark": {"type": "text", "font": "DejaVu Sans", "fontWeight": "bold", "fontSize": 10, "align": "center", "baseline": "middle", "color": "white"},
      "encoding": {
        "x": {"datum": -1.8, "type": "quantitative", "scale": {"domain": [-3.947, 100.493], "nice": false, "zero": false}, "axis": null},
        "y": {"datum": -2.4, "type": "quantitative", "scale": {"domain": [-4.05, 4.1], "nice": false, "zero": false}, "axis": null},
        "text": {"value": "3"}
      }
    },
    {
      "data": {"values": [{}]},
      "mark": {"type": "point", "shape": "M-1,-0.6L1,-0.6L0,0.6Z", "size": 196, "filled": true, "fill": "#ff4b14", "strokeWidth": 0, "opacity": 1},
      "encoding": {
        "x": {"datum": 50, "type": "quantitative", "scale": {"domain": [-3.947, 100.493], "nice": false, "zero": false}, "axis": null},
        "y": {"datum": 3.9, "type": "quantitative", "scale": {"domain": [-4.05, 4.1], "nice": false, "zero": false}, "axis": null}
      }
    },
    {
      "data": {"values": [{}]},
      "mark": {"type": "rect", "fill": "white", "stroke": "black", "strokeWidth": 1.2, "cornerRadius": 4, "clip": true},
      "encoding": {
        "x": {"datum": 82.4, "type": "quantitative", "scale": {"domain": [-3.947, 100.493], "nice": false, "zero": false}, "axis": null},
        "x2": {"datum": 101.5},
        "y": {"datum": -3.65, "type": "quantitative", "scale": {"domain": [-4.05, 4.1], "nice": false, "zero": false}, "axis": null},
        "y2": {"datum": -4.25}
      }
    },
    {
      "data": {"values": [{}]},
      "mark": {"type": "rect", "fill": "black", "cornerRadius": 6},
      "encoding": {
        "x": {"datum": 82.9, "type": "quantitative", "scale": {"domain": [-3.947, 100.493], "nice": false, "zero": false}, "axis": null},
        "x2": {"datum": 85.6},
        "y": {"datum": -3.68, "type": "quantitative", "scale": {"domain": [-4.05, 4.1], "nice": false, "zero": false}, "axis": null},
        "y2": {"datum": -3.98}
      }
    },
    {
      "data": {"values": [{}]},
      "mark": {"type": "text", "font": "DejaVu Sans", "fontWeight": "bold", "fontSize": 10, "align": "center", "baseline": "middle", "color": "white"},
      "encoding": {
        "x": {"datum": 84.25, "type": "quantitative", "scale": {"domain": [-3.947, 100.493], "nice": false, "zero": false}, "axis": null},
        "y": {"datum": -3.83, "type": "quantitative", "scale": {"domain": [-4.05, 4.1], "nice": false, "zero": false}, "axis": null},
        "text": {"value": "F"}
      }
    },
    {
      "data": {"values": [{}]},
      "mark": {"type": "text", "font": "DejaVu Sans Mono", "fontSize": 11.5, "align": "left", "baseline": "alphabetic", "color": "black"},
      "encoding": {
        "x": {"datum": 87.66, "type": "quantitative", "scale": {"domain": [-3.947, 100.493], "nice": false, "zero": false}, "axis": null},
        "y": {"datum": -3.925, "type": "quantitative", "scale": {"domain": [-4.05, 4.1], "nice": false, "zero": false}, "axis": null},
        "text": {"value": "17.8055kHz"}
      }
    }
  ]
}
